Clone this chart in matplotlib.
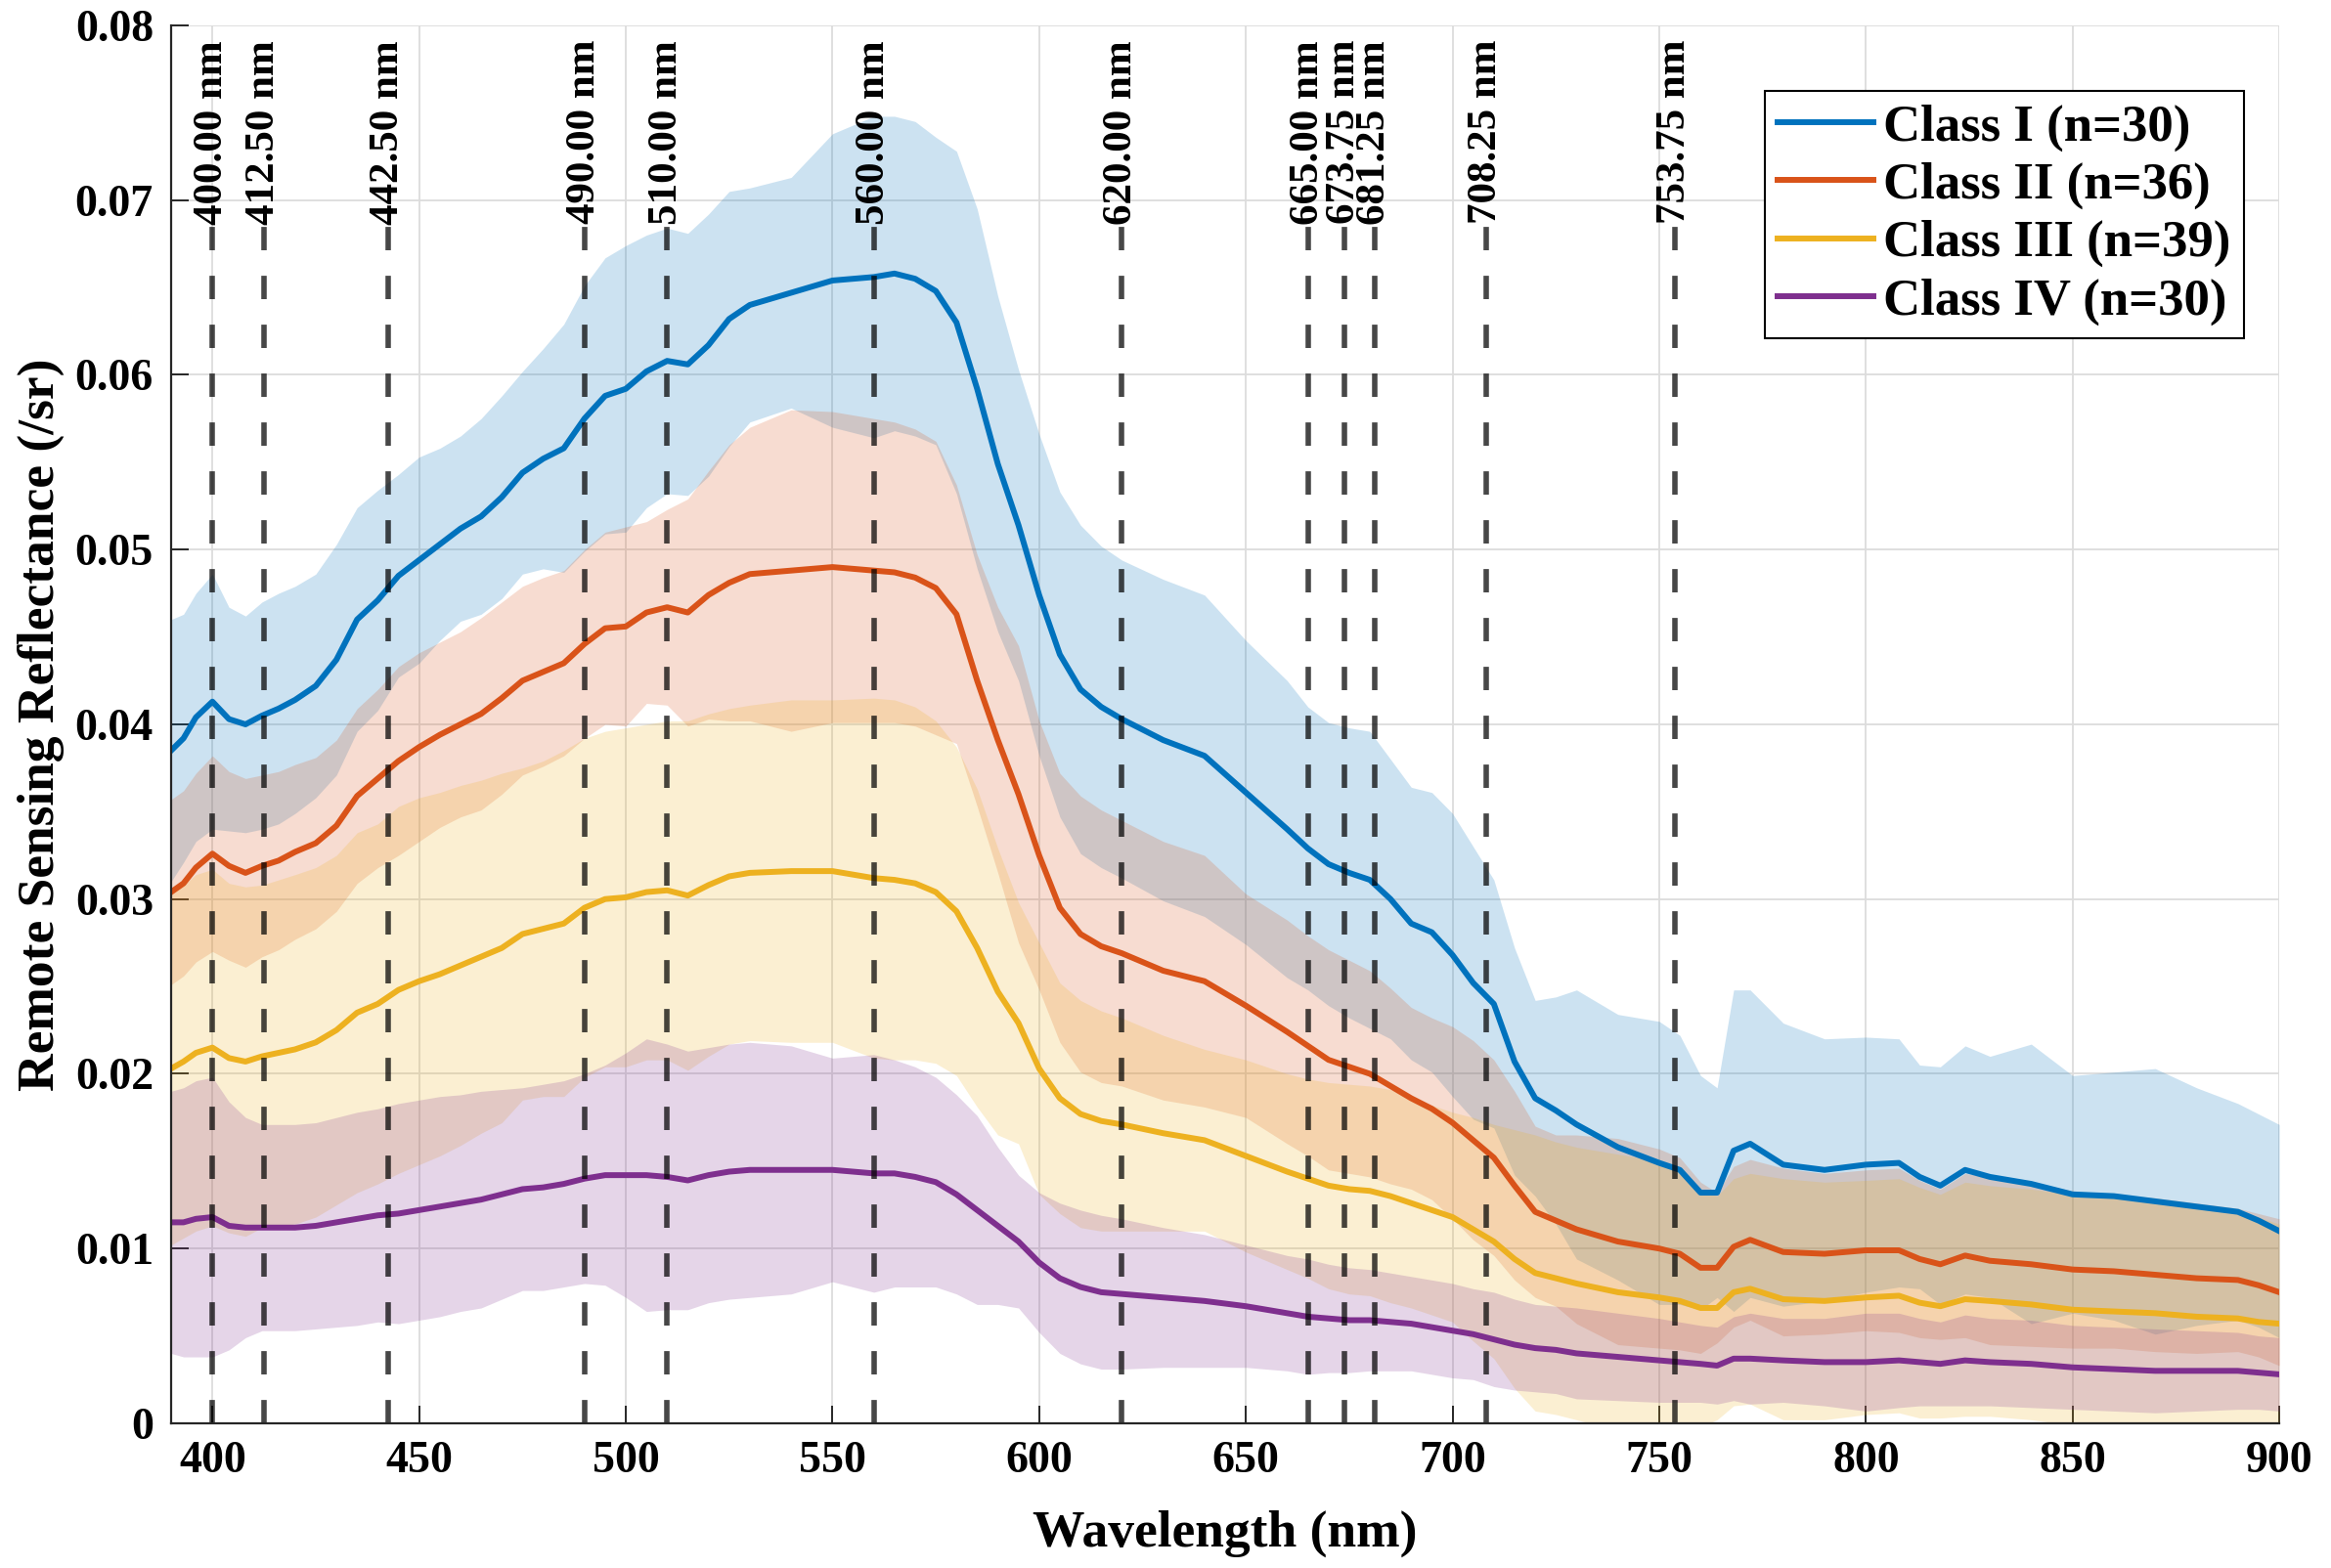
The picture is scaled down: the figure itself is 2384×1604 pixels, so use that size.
#!/usr/bin/env python3
"""Mean remote sensing reflectance (+/- 1 std) of four water classes."""

import matplotlib
matplotlib.use("Agg")
from matplotlib import pyplot as plt
import numpy as np

wavelength = [
    390, 393, 396, 400, 404, 408, 412, 416, 420, 425,
    430, 435, 440, 445, 450, 455, 460, 465, 470, 475,
    480, 485, 490, 495, 500, 505, 510, 515, 520, 525,
    530, 540, 550, 560, 565, 570, 575, 580, 585, 590,
    595, 600, 605, 610, 615, 620, 630, 640, 650, 660,
    665, 670, 675, 680, 685, 690, 695, 700, 705, 710,
    715, 720, 725, 730, 740, 750, 755, 760, 764, 768,
    772, 780, 790, 800, 808, 813, 818, 824, 830, 840,
    850, 860, 870, 880, 890, 895, 900,
]

# Class I: mean and mean + 1 std
mean_c1 = [
    0.0385, 0.0392, 0.0404, 0.0413, 0.0403, 0.0400, 0.0405, 0.0409, 0.0414, 0.0422,
    0.0437, 0.0460, 0.0471, 0.0485, 0.0494, 0.0503, 0.0512, 0.0519, 0.0530, 0.0544,
    0.0552, 0.0558, 0.0575, 0.0588, 0.0592, 0.0602, 0.0608, 0.0606, 0.0617, 0.0632,
    0.0640, 0.0647, 0.0654, 0.0656, 0.0658, 0.0655, 0.0648, 0.0630, 0.0592, 0.0549,
    0.0514, 0.0474, 0.0440, 0.0420, 0.0410, 0.0403, 0.0391, 0.0382, 0.0361, 0.0340,
    0.0329, 0.0320, 0.0315, 0.0311, 0.0300, 0.0286, 0.0281, 0.0268, 0.0252, 0.0240,
    0.0207, 0.0186, 0.0179, 0.0171, 0.0158, 0.0149, 0.0145, 0.0132, 0.0132, 0.0156,
    0.0160, 0.0148, 0.0145, 0.0148, 0.0149, 0.0141, 0.0136, 0.0145, 0.0141, 0.0137,
    0.0131, 0.0130, 0.0127, 0.0124, 0.0121, 0.0116, 0.0110,
]
upper_c1 = [
    0.0460, 0.0463, 0.0475, 0.0486, 0.0467, 0.0462, 0.0470, 0.0475, 0.0479, 0.0486,
    0.0503, 0.0524, 0.0534, 0.0543, 0.0553, 0.0558, 0.0565, 0.0575, 0.0588, 0.0602,
    0.0615, 0.0629, 0.0651, 0.0667, 0.0674, 0.0680, 0.0684, 0.0681, 0.0692, 0.0705,
    0.0707, 0.0713, 0.0738, 0.0748, 0.0748, 0.0745, 0.0736, 0.0728, 0.0695, 0.0645,
    0.0603, 0.0566, 0.0533, 0.0514, 0.0502, 0.0494, 0.0483, 0.0474, 0.0448, 0.0425,
    0.0410, 0.0401, 0.0398, 0.0396, 0.0380, 0.0364, 0.0361, 0.0349, 0.0330, 0.0311,
    0.0272, 0.0242, 0.0244, 0.0248, 0.0234, 0.0230, 0.0222, 0.0199, 0.0192, 0.0248,
    0.0248, 0.0229, 0.0220, 0.0221, 0.0220, 0.0205, 0.0204, 0.0216, 0.0210, 0.0217,
    0.0199, 0.0201, 0.0203, 0.0192, 0.0183, 0.0177, 0.0171,
]

# Class II
mean_c2 = [
    0.0304, 0.0309, 0.0318, 0.0326, 0.0319, 0.0315, 0.0319, 0.0322, 0.0327, 0.0332,
    0.0342, 0.0359, 0.0369, 0.0379, 0.0387, 0.0394, 0.0400, 0.0406, 0.0415, 0.0425,
    0.0430, 0.0435, 0.0446, 0.0455, 0.0456, 0.0464, 0.0467, 0.0464, 0.0474, 0.0481,
    0.0486, 0.0488, 0.0490, 0.0488, 0.0487, 0.0484, 0.0478, 0.0463, 0.0425, 0.0391,
    0.0360, 0.0325, 0.0295, 0.0280, 0.0273, 0.0269, 0.0259, 0.0253, 0.0239, 0.0224,
    0.0216, 0.0208, 0.0204, 0.0200, 0.0193, 0.0186, 0.0180, 0.0172, 0.0162, 0.0152,
    0.0136, 0.0121, 0.0116, 0.0111, 0.0104, 0.0100, 0.0097, 0.0089, 0.0089, 0.0101,
    0.0105, 0.0098, 0.0097, 0.0099, 0.0099, 0.0094, 0.0091, 0.0096, 0.0093, 0.0091,
    0.0088, 0.0087, 0.0085, 0.0083, 0.0082, 0.0079, 0.0075,
]
upper_c2 = [
    0.0357, 0.0362, 0.0372, 0.0382, 0.0373, 0.0369, 0.0371, 0.0373, 0.0377, 0.0381,
    0.0391, 0.0409, 0.0420, 0.0433, 0.0441, 0.0447, 0.0453, 0.0461, 0.0470, 0.0479,
    0.0484, 0.0488, 0.0500, 0.0510, 0.0513, 0.0516, 0.0523, 0.0529, 0.0545, 0.0560,
    0.0570, 0.0580, 0.0579, 0.0575, 0.0573, 0.0569, 0.0562, 0.0537, 0.0497, 0.0467,
    0.0445, 0.0402, 0.0372, 0.0359, 0.0351, 0.0345, 0.0333, 0.0325, 0.0303, 0.0288,
    0.0279, 0.0271, 0.0265, 0.0259, 0.0249, 0.0238, 0.0232, 0.0227, 0.0219, 0.0208,
    0.0190, 0.0170, 0.0165, 0.0165, 0.0163, 0.0157, 0.0152, 0.0138, 0.0132, 0.0147,
    0.0151, 0.0146, 0.0143, 0.0145, 0.0146, 0.0139, 0.0134, 0.0143, 0.0141, 0.0138,
    0.0133, 0.0131, 0.0129, 0.0126, 0.0123, 0.0120, 0.0117,
]

# Class III
mean_c3 = [
    0.0203, 0.0207, 0.0212, 0.0215, 0.0209, 0.0207, 0.0210, 0.0212, 0.0214, 0.0218,
    0.0225, 0.0235, 0.0240, 0.0248, 0.0253, 0.0257, 0.0262, 0.0267, 0.0272, 0.0280,
    0.0283, 0.0286, 0.0295, 0.0300, 0.0301, 0.0304, 0.0305, 0.0302, 0.0308, 0.0313,
    0.0315, 0.0316, 0.0316, 0.0312, 0.0311, 0.0309, 0.0304, 0.0293, 0.0272, 0.0247,
    0.0229, 0.0203, 0.0186, 0.0177, 0.0173, 0.0171, 0.0166, 0.0162, 0.0153, 0.0144,
    0.0140, 0.0136, 0.0134, 0.0133, 0.0130, 0.0126, 0.0122, 0.0118, 0.0111, 0.0104,
    0.0094, 0.0086, 0.0083, 0.0080, 0.0075, 0.0072, 0.0070, 0.0066, 0.0066, 0.0075,
    0.0077, 0.0071, 0.0070, 0.0072, 0.0073, 0.0069, 0.0067, 0.0071, 0.0070, 0.0068,
    0.0065, 0.0064, 0.0063, 0.0061, 0.0060, 0.0058, 0.0057,
]
upper_c3 = [
    0.0304, 0.0308, 0.0314, 0.0317, 0.0309, 0.0307, 0.0308, 0.0311, 0.0314, 0.0318,
    0.0325, 0.0338, 0.0343, 0.0353, 0.0358, 0.0361, 0.0365, 0.0368, 0.0372, 0.0375,
    0.0379, 0.0385, 0.0392, 0.0396, 0.0398, 0.0400, 0.0402, 0.0402, 0.0406, 0.0409,
    0.0411, 0.0414, 0.0414, 0.0415, 0.0414, 0.0410, 0.0402, 0.0387, 0.0363, 0.0329,
    0.0298, 0.0275, 0.0252, 0.0242, 0.0236, 0.0232, 0.0222, 0.0214, 0.0208, 0.0200,
    0.0197, 0.0195, 0.0194, 0.0193, 0.0191, 0.0186, 0.0182, 0.0178, 0.0175, 0.0171,
    0.0168, 0.0165, 0.0161, 0.0158, 0.0154, 0.0150, 0.0146, 0.0134, 0.0130, 0.0140,
    0.0143, 0.0140, 0.0138, 0.0139, 0.0140, 0.0135, 0.0131, 0.0138, 0.0136, 0.0134,
    0.0131, 0.0129, 0.0126, 0.0124, 0.0121, 0.0118, 0.0114,
]

# Class IV
mean_c4 = [
    0.0115, 0.0115, 0.0117, 0.0118, 0.0113, 0.0112, 0.0112, 0.0112, 0.0112, 0.0113,
    0.0115, 0.0117, 0.0119, 0.0120, 0.0122, 0.0124, 0.0126, 0.0128, 0.0131, 0.0134,
    0.0135, 0.0137, 0.0140, 0.0142, 0.0142, 0.0142, 0.0141, 0.0139, 0.0142, 0.0144,
    0.0145, 0.0145, 0.0145, 0.0143, 0.0143, 0.0141, 0.0138, 0.0131, 0.0122, 0.0113,
    0.0104, 0.0092, 0.0083, 0.0078, 0.0075, 0.0074, 0.0072, 0.0070, 0.0067, 0.0063,
    0.0061, 0.0060, 0.0059, 0.0059, 0.0058, 0.0057, 0.0055, 0.0053, 0.0051, 0.0048,
    0.0045, 0.0043, 0.0042, 0.0040, 0.0038, 0.0036, 0.0035, 0.0034, 0.0033, 0.0037,
    0.0037, 0.0036, 0.0035, 0.0035, 0.0036, 0.0035, 0.0034, 0.0036, 0.0035, 0.0034,
    0.0032, 0.0031, 0.0030, 0.0030, 0.0030, 0.0029, 0.0028,
]
upper_c4 = [
    0.0190, 0.0192, 0.0196, 0.0198, 0.0184, 0.0175, 0.0171, 0.0171, 0.0171, 0.0172,
    0.0175, 0.0178, 0.0180, 0.0183, 0.0185, 0.0187, 0.0188, 0.0190, 0.0191, 0.0192,
    0.0194, 0.0196, 0.0200, 0.0205, 0.0212, 0.0220, 0.0217, 0.0213, 0.0215, 0.0217,
    0.0218, 0.0216, 0.0209, 0.0211, 0.0208, 0.0204, 0.0198, 0.0188, 0.0176, 0.0158,
    0.0142, 0.0132, 0.0126, 0.0122, 0.0119, 0.0117, 0.0112, 0.0108, 0.0102, 0.0096,
    0.0094, 0.0091, 0.0089, 0.0088, 0.0086, 0.0084, 0.0082, 0.0080, 0.0077, 0.0075,
    0.0071, 0.0068, 0.0067, 0.0066, 0.0063, 0.0060, 0.0058, 0.0056, 0.0055, 0.0061,
    0.0063, 0.0060, 0.0060, 0.0063, 0.0063, 0.0060, 0.0058, 0.0062, 0.0060, 0.0059,
    0.0056, 0.0055, 0.0054, 0.0053, 0.0052, 0.0050, 0.0049,
]

class_labels = ["Class I (n=30)", "Class II (n=36)",
                "Class III (n=39)", "Class IV (n=30)"]

# Sensor band centres marked with dashed lines
band_centres = [400.00, 412.50, 442.50, 490.00, 510.00, 560.00,
                620.00, 665.00, 673.75, 681.25, 708.25, 753.75]

xticks = [400, 450, 500, 550, 600, 650, 700, 750, 800, 850, 900]
yticks = [0, 0.01, 0.02, 0.03, 0.04, 0.05, 0.06, 0.07, 0.08]
ytick_labels = ["0", "0.01", "0.02", "0.03", "0.04",
                "0.05", "0.06", "0.07", "0.08"]

# MATLAB default line colours
colors = ["#0072BD", "#D95319", "#EDB120", "#7E2F8E"]


def main():
    plt.rcParams["font.family"] = ["Liberation Serif", "DejaVu Serif"]
    plt.rcParams["font.weight"] = "bold"
    plt.rcParams["axes.labelweight"] = "bold"

    fig = plt.figure(figsize=(23.84, 16.04), dpi=100)
    ax = fig.add_axes([0.0734, 0.0923, 0.9044, 0.8915])

    wl = np.array(wavelength)
    means = [mean_c1, mean_c2, mean_c3, mean_c4]
    uppers = [upper_c1, upper_c2, upper_c3, upper_c4]

    # shaded band first, then the mean line, class after class
    for label, color, mean, upper in zip(class_labels, colors, means, uppers):
        mean = np.array(mean)
        std = np.array(upper) - mean
        ax.fill_between(wl, mean - std, mean + std, color=color,
                        alpha=0.2, linewidth=0)
        ax.plot(wl, mean, color=color, linewidth=4.3, label=label)

    for b in band_centres:
        ax.axvline(b, ymin=0, ymax=0.856, color="black", alpha=0.72,
                   linewidth=4.0, dashes=(4.3, 4.7))
        ax.text(b, 0.9895, f"{b:.2f} nm", transform=ax.get_xaxis_transform(),
                rotation=90, ha="center", va="top", fontsize=31,
                fontweight="bold")

    ax.set_xlim(390, 900)
    ax.set_ylim(0, 0.08)
    ax.set_xticks(xticks)
    ax.set_yticks(yticks)
    ax.set_yticklabels(ytick_labels)

    ax.grid(True, color="#dcdcdc", linewidth=1.3)
    ax.set_axisbelow(True)
    for side in ("top", "right"):
        ax.spines[side].set_visible(False)
    for side in ("left", "bottom"):
        ax.spines[side].set_color("#262626")
        ax.spines[side].set_linewidth(1.6)

    ax.tick_params(direction="in", length=13, width=1.4, color="#262626",
                   labelsize=33, pad=13)

    ax.set_xlabel("Wavelength (nm)", fontsize=38.5, labelpad=21)
    ax.set_ylabel("Remote Sensing Reflectance (/sr)", fontsize=38.5,
                  labelpad=8)

    leg = ax.legend(loc="upper right", bbox_to_anchor=(0.9833, 0.953),
                    borderaxespad=0, fontsize=38, fancybox=False,
                    edgecolor="black", framealpha=1, handlelength=1.85,
                    borderpad=0.25, labelspacing=0.21, handletextpad=0.2)
    leg.get_frame().set_linewidth(1.5)

    fig.savefig("out.png", dpi=100)


if __name__ == "__main__":
    main()
